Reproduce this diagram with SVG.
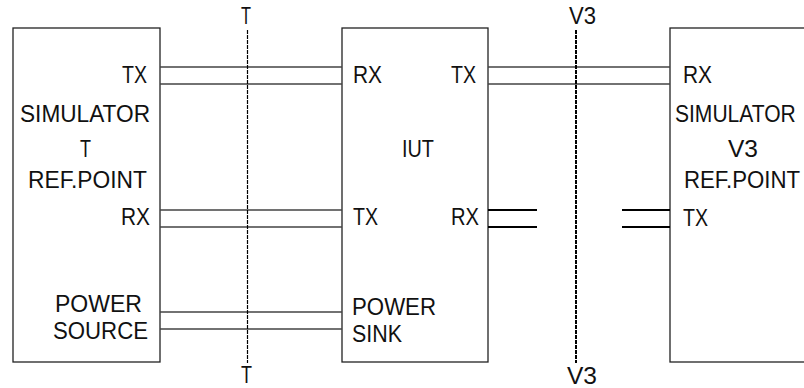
<svg xmlns="http://www.w3.org/2000/svg" width="804" height="388" viewBox="0 0 804 388">
<style>
.box{fill:#fff;stroke:#222;stroke-width:1.3}
.w{fill:none;stroke:#444;stroke-width:1.5}
.wb{fill:none;stroke:#000;stroke-width:2}
.ref1{fill:none;stroke:#000;stroke-width:1.2;stroke-dasharray:4 1}
.ref2{fill:none;stroke:#000;stroke-width:2;stroke-dasharray:4 1}
text{font-family:"Liberation Sans",Arial,sans-serif;font-size:23px;fill:#111}
</style>
<g id="sim-t">
<rect class="box" x="13" y="28" width="147" height="334"/>
<text x="122" y="83" textLength="25" lengthAdjust="spacingAndGlyphs">TX</text>
<text x="20" y="122" textLength="130" lengthAdjust="spacingAndGlyphs">SIMULATOR</text>
<text x="80" y="157" textLength="11" lengthAdjust="spacingAndGlyphs">T</text>
<text x="28" y="188" textLength="119" lengthAdjust="spacingAndGlyphs">REF.POINT</text>
<text x="121" y="225" textLength="29" lengthAdjust="spacingAndGlyphs">RX</text>
<text x="55" y="312" textLength="87" lengthAdjust="spacingAndGlyphs">POWER</text>
<text x="53" y="339" textLength="95" lengthAdjust="spacingAndGlyphs">SOURCE</text>
</g>
<g id="iut">
<rect class="box" x="342" y="28" width="146" height="334"/>
<text x="353" y="83" textLength="29" lengthAdjust="spacingAndGlyphs">RX</text>
<text x="451" y="83" textLength="25" lengthAdjust="spacingAndGlyphs">TX</text>
<text x="402" y="157" textLength="32" lengthAdjust="spacingAndGlyphs">IUT</text>
<text x="353" y="225" textLength="25" lengthAdjust="spacingAndGlyphs">TX</text>
<text x="451" y="225" textLength="28" lengthAdjust="spacingAndGlyphs">RX</text>
<text x="352" y="315" textLength="84" lengthAdjust="spacingAndGlyphs">POWER</text>
<text x="352" y="342" textLength="50" lengthAdjust="spacingAndGlyphs">SINK</text>
</g>
<g id="sim-v3">
<rect class="box" x="670" y="28" width="150" height="334"/>
<text x="683" y="83" textLength="29" lengthAdjust="spacingAndGlyphs">RX</text>
<text transform="translate(675 122) scale(0.915 1)">SIMULATOR</text>
<text x="728" y="157" textLength="30" lengthAdjust="spacingAndGlyphs">V3</text>
<text x="684" y="188" textLength="116" lengthAdjust="spacingAndGlyphs">REF.POINT</text>
<text x="683" y="226" textLength="25" lengthAdjust="spacingAndGlyphs">TX</text>
</g>
<g id="connectors">
<path class="w" d="M160 67H342M160 84H342"/>
<path class="w" d="M160 210H342M160 227H342"/>
<path class="w" d="M160 312H342M160 329H342"/>
<path class="w" d="M488 67H670M488 84H670"/>
<path class="wb" d="M488 210H537M488 227H537"/>
<path class="wb" d="M622 210H670M622 227H670"/>
</g>
<g id="ref-t">
<line class="ref1" x1="247.5" y1="30" x2="247.5" y2="363"/>
<text x="241" y="24" textLength="10" lengthAdjust="spacingAndGlyphs">T</text>
<text x="241" y="383" textLength="11" lengthAdjust="spacingAndGlyphs">T</text>
</g>
<g id="ref-v3">
<line class="ref2" x1="576" y1="30" x2="576" y2="363"/>
<text x="569" y="24" textLength="27" lengthAdjust="spacingAndGlyphs">V3</text>
<text x="567" y="384" textLength="30" lengthAdjust="spacingAndGlyphs">V3</text>
</g>
</svg>
